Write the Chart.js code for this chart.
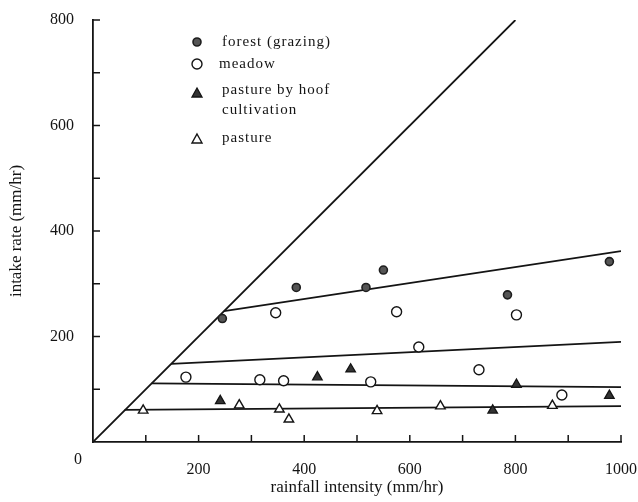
<!DOCTYPE html>
<html>
<head>
<meta charset="utf-8">
<style>
html, body { margin: 0; padding: 0; background: #fff; }
#wrap { width: 638px; height: 502px; position: relative; }
</style>
<script src="https://cdn.jsdelivr.net/npm/chart.js@4.4.1/dist/chart.umd.min.js"></script>
</head>
<body>
<div id="wrap"><canvas id="intakeChart"></canvas></div>
<script>
// values, rainfall intensity (x) vs intake rate (y), mm/hr
var forestX = [245, 385, 517, 550, 785, 978];
var forestY = [234, 293, 293, 326, 279, 342];

var meadowX = [176, 316, 346, 361, 526, 575, 617, 731, 802, 888];
var meadowY = [123, 118, 245, 116, 114, 247, 180, 137, 241, 89];

var hoofX = [241, 425, 488, 757, 802, 978];
var hoofY = [78, 123, 138, 60, 109, 88];

var pastureX = [95, 277, 353, 371, 538, 658, 870];
var pastureY = [60, 70, 62, 43, 59, 68, 69];

// fitted lines (end points) and the 1:1 line
var equalX = [0, 800];
var equalY = [0, 800];
var fitForestX = [248, 1000];
var fitForestY = [248, 362];
var fitMeadowX = [148, 1000];
var fitMeadowY = [148, 190];
var fitHoofX = [111, 1000];
var fitHoofY = [111, 104];
var fitPastureX = [60, 1000];
var fitPastureY = [61, 68];

var xTickMarks = [100, 200, 300, 400, 500, 600, 700, 800, 900, 1000];
var yTickMarks = [100, 200, 300, 400, 500, 600, 700, 800];

var legendLabels = [['forest (grazing)'], ['meadow'], ['pasture by hoof', 'cultivation'], ['pasture']];

function pts(xs, ys) {
  return xs.map(function(x, i){ return {x: x, y: ys[i]}; });
}

var ink = '#141414';
var serif = "'Liberation Serif', 'DejaVu Serif', serif";

function lineSet(xs, ys) {
  return {
    type: 'line',
    data: pts(xs, ys),
    borderColor: ink,
    borderWidth: 1.8,
    pointRadius: 0,
    fill: false,
    order: 2,
  };
}

var markStyles = [
  {pointStyle: 'circle', pointRadius: 4, backgroundColor: '#555', borderColor: '#1e1e1e', borderWidth: 1.6},
  {pointStyle: 'circle', pointRadius: 5, backgroundColor: '#fff', borderColor: ink, borderWidth: 1.4},
  {pointStyle: 'triangle', pointRadius: 5.5, backgroundColor: '#333', borderColor: ink, borderWidth: 1.3},
  {pointStyle: 'triangle', pointRadius: 5.5, backgroundColor: '#fff', borderColor: ink, borderWidth: 1.4},
];

function pointSet(xs, ys, st) {
  return Object.assign({
    type: 'scatter',
    data: pts(xs, ys),
    showLine: false,
    order: 0,
  }, st);
}

function drawMark(ctx, st, x, y) {
  ctx.beginPath();
  if (st.pointStyle == 'circle') {
    ctx.arc(x, y, st.pointRadius, 0, Math.PI * 2);
  } else {
    ctx.moveTo(x, y - 5);
    ctx.lineTo(x + 5, y + 4);
    ctx.lineTo(x - 5, y + 4);
    ctx.closePath();
  }
  ctx.fillStyle = st.backgroundColor;
  ctx.fill();
  ctx.lineWidth = st.borderWidth;
  ctx.strokeStyle = st.borderColor;
  ctx.stroke();
}

// tick marks inside the axes, origin label and the key
var paperPlugin = {
  id: 'paper',
  afterDraw: function(chart) {
    var ctx = chart.ctx, xs = chart.scales.x, ys = chart.scales.y;
    ctx.save();
    ctx.strokeStyle = ink;
    ctx.lineWidth = 1.5;
    xTickMarks.forEach(function(v){
      var px = xs.getPixelForValue(v);
      ctx.beginPath();
      ctx.moveTo(px, ys.bottom);
      ctx.lineTo(px, ys.bottom - 7);
      ctx.stroke();
    });
    yTickMarks.forEach(function(v){
      var py = ys.getPixelForValue(v);
      ctx.beginPath();
      ctx.moveTo(xs.left, py);
      ctx.lineTo(xs.left + 7, py);
      ctx.stroke();
    });

    ctx.fillStyle = ink;
    ctx.font = '16px ' + serif;
    ctx.textAlign = 'right';
    ctx.textBaseline = 'middle';
    ctx.fillText('0', xs.left - 11, ys.bottom + 18);

    // key
    var rowY = [42, 64, 90, 138];
    var markY = [42, 64, 93, 139];
    ctx.font = '15px ' + serif;
    ctx.letterSpacing = '1px';
    ctx.textAlign = 'left';
    legendLabels.forEach(function(lines, i){
      drawMark(ctx, markStyles[i], 197, markY[i]);
      ctx.fillStyle = ink;
      lines.forEach(function(t, j){
        ctx.fillText(t, i == 1 ? 219 : 222, rowY[i] + j * 20);
      });
    });
    ctx.restore();
  },
};

var ctx = document.getElementById('intakeChart').getContext('2d');
var intake = new Chart(ctx, {
  type: 'scatter',
  data: {
    datasets: [
      pointSet(forestX, forestY, markStyles[0]),
      pointSet(meadowX, meadowY, markStyles[1]),
      pointSet(hoofX, hoofY, markStyles[2]),
      pointSet(pastureX, pastureY, markStyles[3]),
      lineSet(equalX, equalY),
      lineSet(fitForestX, fitForestY),
      lineSet(fitMeadowX, fitMeadowY),
      lineSet(fitHoofX, fitHoofY),
      lineSet(fitPastureX, fitPastureY),
    ],
  },
  options: {
    responsive: true,
    maintainAspectRatio: false,
    animation: false,
    layout: {padding: {top: 20, right: 17, left: 0, bottom: 0}},
    plugins: {
      legend: {display: false},
      tooltip: {enabled: false},
    },
    scales: {
      x: {
        type: 'linear',
        min: 0,
        max: 1000,
        grid: {display: false},
        border: {display: true, color: ink, width: 1.8},
        ticks: {
          stepSize: 200,
          padding: 10,
          color: ink,
          font: {family: serif, size: 16},
          callback: function(v){ return v == 0 ? '' : v; },
        },
        title: {
          display: true,
          text: 'rainfall intensity (mm/hr)',
          color: ink,
          font: {family: serif, size: 17},
          padding: {top: 4, bottom: 4},
        },
        afterFit: function(scale){
          scale.height = 60;
          scale.paddingLeft = 0;
          scale.paddingRight = 0;
        },
      },
      y: {
        type: 'linear',
        min: 0,
        max: 800,
        grid: {display: false},
        border: {display: true, color: ink, width: 1.8},
        ticks: {
          stepSize: 200,
          padding: 11,
          color: ink,
          font: {family: serif, size: 16},
          callback: function(v){ return v == 0 ? '' : v; },
        },
        title: {
          display: true,
          text: 'intake rate (mm/hr)',
          color: ink,
          font: {family: serif, size: 17},
          padding: {top: 6, bottom: 4},
        },
        afterFit: function(scale){
          scale.width = 93;
          scale.paddingTop = 0;
          scale.paddingBottom = 0;
        },
      },
    },
  },
  plugins: [paperPlugin],
});
</script>
</body>
</html>
